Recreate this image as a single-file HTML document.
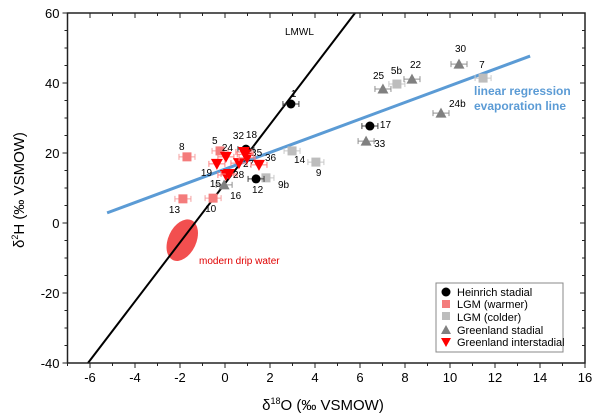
<!DOCTYPE html>
<html><head><meta charset="utf-8">
<style>
html,body{margin:0;padding:0;background:#fff;}
svg{display:block;font-family:"Liberation Sans",Arial,sans-serif;}
</style></head>
<body>
<svg id="chart" width="600" height="419" viewBox="0 0 600 419" xmlns="http://www.w3.org/2000/svg">
  <g id="lines"></g>
  <g id="marks"></g>
  <g id="axes"></g>
  <g>
    <rect x="436" y="283" width="127" height="69" fill="#fff" stroke="#888" stroke-width="1"/>
    <circle cx="446" cy="292" r="4.5" fill="#000"/>
    <text x="457" y="296" font-size="11">Heinrich stadial</text>
    <rect x="442" y="300" width="8" height="8" fill="#f47c7c"/>
    <text x="457" y="308" font-size="11">LGM (warmer)</text>
    <rect x="442" y="312" width="8" height="8" fill="#bdbdbd"/>
    <text x="457" y="321" font-size="11">LGM (colder)</text>
    <polygon points="446,325 451,334 441,334" fill="#808080"/>
    <text x="457" y="334" font-size="11">Greenland stadial</text>
    <polygon points="441,338 451,338 446,347" fill="#ff0000"/>
    <text x="457" y="346" font-size="11">Greenland interstadial</text>
  </g>
  <text x="285" y="35" font-size="10">LMWL</text>
  <text x="474" y="95" font-size="12" font-weight="bold" fill="#5b9bd5">linear regression</text>
  <text x="474" y="110" font-size="12" font-weight="bold" fill="#5b9bd5">evaporation line</text>
  <text x="199" y="264" font-size="10" fill="#e00000">modern drip water</text>
  <text x="323" y="410" font-size="15" text-anchor="middle">δ<tspan dy="-6" font-size="9">18</tspan><tspan dy="6">O (‰ VSMOW)</tspan></text>
  <text transform="translate(24,190) rotate(-90)" font-size="15" text-anchor="middle">δ<tspan dy="-6" font-size="9">2</tspan><tspan dy="6">H (‰ VSMOW)</tspan></text>
</svg>
<script>
// Data
const heinrichX = [2.93, 6.44, 1.38, 0.93];
const heinrichY = [34, 27.7, 12.6, 21.1];
const heinrichLabels = ["1", "17", "12", "32"];
const warmX = [-1.69, -0.22, -1.87, -0.53];
const warmY = [18.9, 20.6, 6.9, 7.1];
const warmLabels = ["8", "5", "13", "10"];
const coldX = [2.98, 4.04, 1.82, 7.64, 11.47];
const coldY = [20.6, 17.4, 12.9, 39.7, 41.4];
const coldLabels = ["14", "9", "9b", "5b", "7"];
const stadX = [-0.04, 6.27, 7.02, 8.31, 10.4, 9.6];
const stadY = [10.9, 23.4, 38.3, 41.1, 45.4, 31.4];
const stadLabels = ["16", "33", "25", "22", "30", "24b"];
const interX = [0.04, -0.36, 0.04, 0.18, 0.62, 0.98, 0.84, 1.51, 0.9];
const interY = [18.9, 16.9, 13.7, 14.0, 17.1, 18.6, 20.3, 16.6, 19.6];
const interLabels = ["24", "19", "15", "28", "27", "35", "18", "36", ""];
const lmwlX = [-6.09, 5.78];
const lmwlY = [-40, 60];
const regX = [-5.24, 13.56];
const regY = [2.9, 47.7];
const dripX = [-1.9];
const dripY = [-4.9];
const xTicks = [-6, -4, -2, 0, 2, 4, 6, 8, 10, 12, 14, 16];
const yTicks = [-40, -20, 0, 20, 40, 60];

const L = 67.5, R = 585, T = 13, B = 363;
const xMin = -7, xMax = 16, yMin = -40, yMax = 60;
function X(v){ return L + (v - xMin) / (xMax - xMin) * (R - L); }
function Y(v){ return B - (v - yMin) / (yMax - yMin) * (B - T); }
const NS = "http://www.w3.org/2000/svg";
function mk(tag, attrs, parent){ const e = document.createElementNS(NS, tag); for (const k in attrs) e.setAttribute(k, attrs[k]); parent.appendChild(e); return e; }

const lines = document.getElementById("lines");
const marks = document.getElementById("marks");
const axes = document.getElementById("axes");

// Drip water ellipse
const ell = mk("ellipse", {cx: X(dripX[0]), cy: Y(dripY[0]), rx: 14, ry: 22, fill: "#f03030", "fill-opacity": 0.85, transform: "rotate(25 " + X(dripX[0]) + " " + Y(dripY[0]) + ")"}, lines);



const lm = mk("line", {x1: X(lmwlX[0]), y1: Y(lmwlY[0]), x2: X(lmwlX[1]), y2: Y(lmwlY[1]), stroke: "#000", "stroke-width": 2}, lines);


const rg = mk("line", {x1: X(regX[0]), y1: Y(regY[0]), x2: X(regX[1]), y2: Y(regY[1]), stroke: "#5b9bd5", "stroke-width": 3}, lines);



function errbar(cx, cy, col){
  mk("line", {x1: cx - 8, y1: cy, x2: cx + 8, y2: cy, stroke: col, "stroke-width": 1}, marks);
  mk("line", {x1: cx - 8, y1: cy - 3, x2: cx - 8, y2: cy + 3, stroke: col, "stroke-width": 1}, marks);
  mk("line", {x1: cx + 8, y1: cy - 3, x2: cx + 8, y2: cy + 3, stroke: col, "stroke-width": 1}, marks);
}
function label(cx, cy, t, dx, dy){
  if (!t) return;
  const e = mk("text", {x: cx + dx, y: cy + dy, "font-size": 10}, marks);
  e.textContent = t;
  
  
}
const offs = {"1":[0,-7],"17":[10,2],"12":[-4,14],"32":[-13,-10],"8":[-8,-7],"5":[-8,-7],"13":[-14,14],"10":[-8,14],"14":[2,12],"9":[0,14],"9b":[12,10],"5b":[-6,-10],"7":[-4,-10],"16":[6,14],"33":[8,6],"25":[-10,-10],"22":[-2,-11],"30":[-4,-12],"24b":[8,-6],"24":[-4,-6],"19":[-16,12],"15":[-16,12],"28":[4,4],"27":[4,4],"35":[4,-2],"18":[2,-14],"36":[6,-4]};
function drawSeries(xs, ys, labs, kind, col, ebCol, name){
  for (let i = 0; i < xs.length; i++){
    const cx = X(xs[i]), cy = Y(ys[i]);
    errbar(cx, cy, ebCol);
    let e;
    if (kind === "circle") e = mk("circle", {cx: cx, cy: cy, r: 4.5, fill: col}, marks);
    else if (kind === "square") e = mk("rect", {x: cx - 4.5, y: cy - 4.5, width: 9, height: 9, fill: col}, marks);
    else if (kind === "up") e = mk("polygon", {points: (cx) + "," + (cy - 5.5) + " " + (cx + 5.5) + "," + (cy + 4.5) + " " + (cx - 5.5) + "," + (cy + 4.5), fill: col}, marks);
    else e = mk("polygon", {points: (cx - 6) + "," + (cy - 5) + " " + (cx + 6) + "," + (cy - 5) + " " + cx + "," + (cy + 6), fill: col}, marks);
    
    
    const o = offs[labs[i]] || [4, -4];
    label(cx, cy, labs[i], o[0], o[1]);
  }
}
drawSeries(warmX, warmY, warmLabels, "square", "#f47c7c", "#f4a0a0", "lgm-warmer-point");
drawSeries(coldX, coldY, coldLabels, "square", "#bdbdbd", "#c8c8c8", "lgm-colder-point");
drawSeries(stadX, stadY, stadLabels, "up", "#808080", "#909090", "greenland-stadial-point");
drawSeries(heinrichX, heinrichY, heinrichLabels, "circle", "#000", "#444", "heinrich-stadial-point");
drawSeries(interX, interY, interLabels, "down", "#ff0000", "#ff8080", "greenland-interstadial-point");

// Axes
mk("rect", {x: L, y: T, width: R - L, height: B - T, fill: "none", stroke: "#222", "stroke-width": 1.5}, axes);
for (let v = xMin; v <= xMax; v++){
  const px = X(v), major = (v % 2 === 0);
  const len = major ? 5 : 3;
  mk("line", {x1: px, y1: B, x2: px, y2: B + len, stroke: "#222"}, axes);
  mk("line", {x1: px, y1: T, x2: px, y2: T + len, stroke: "#222"}, axes);
}
xTicks.forEach(v => {
  const t = mk("text", {x: X(v), y: B + 19, "font-size": 13, "text-anchor": "middle"}, axes);
  t.textContent = v;
  
  
});
for (let v = yMin; v <= yMax; v += 5){
  const py = Y(v), major = (v % 20 === 0);
  const len = major ? 5 : 3;
  mk("line", {x1: L, y1: py, x2: L - len, y2: py, stroke: "#222"}, axes);
  mk("line", {x1: R, y1: py, x2: R - len, y2: py, stroke: "#222"}, axes);
}
yTicks.forEach(v => {
  const t = mk("text", {x: L - 8, y: Y(v) + 5, "font-size": 13, "text-anchor": "end"}, axes);
  t.textContent = v;
  
  
});
</script>
</body></html>
